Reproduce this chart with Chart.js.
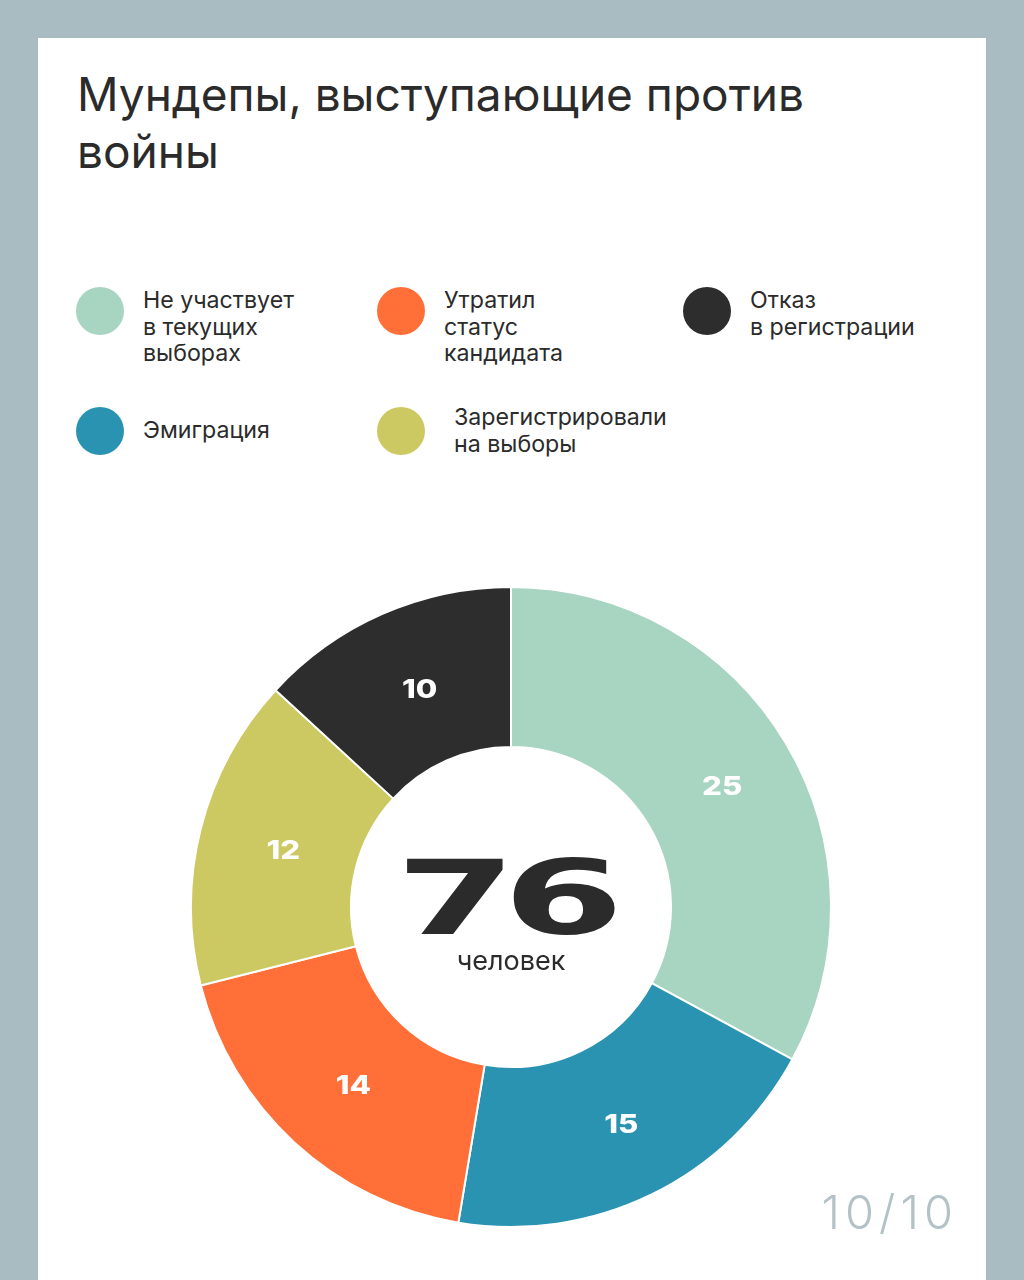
<!DOCTYPE html>
<html lang="ru">
<head>
<meta charset="utf-8">
<script src="https://cdn.jsdelivr.net/npm/chart.js@4.4.0/dist/chart.umd.min.js"></script>
<style>
  body { margin: 0; width: 1024px; height: 1280px; background: #a9bcc1; overflow: hidden; }
  .card { position: absolute; left: 38px; top: 38px; width: 948px; height: 1300px; background: #fff; }
  h1 { position: absolute; left: 77px; top: 66px; margin: 0; font: 400 46px/57px Inter, sans-serif; color: #2b2b2b; width: 860px; }
  #legend { position: absolute; left: 76px; top: 287px; display: grid; grid-template-columns: 301px 306px 260px; grid-template-rows: 117px auto; }
  .item { display: flex; align-items: flex-start; }
  .item .dot { width: 48px; height: 48px; border-radius: 50%; flex: none; margin-right: 19px; }
  .item .txt { font: 400 23.2px/26.5px Inter, sans-serif; color: #2b2b2b; margin-top: 0; }
  .item.row2 { align-items: center; }
  .item.shift .txt { margin-left: 10px; }
  #wrap { position: absolute; left: 190px; top: 586px; width: 642px; height: 642px; }
  .page { position: absolute; right: 66px; top: 1183px; font: 300 47px Inter, sans-serif; letter-spacing: 5px; color: #b3c2c7; }
</style>
</head>
<body>
<div class="card"></div>
<h1>Мундепы, выступающие против войны</h1>
<div id="legend"></div>
<div id="wrap"><canvas id="myChart"></canvas></div>
<div class="page">10/10</div>
<script>
// order in the ring, clockwise from the top
const labels = ["Не участвует в текущих выборах", "Эмиграция", "Утратил статус кандидата", "Зарегистрировали на выборы", "Отказ в регистрации"];
const values = [25, 15, 14, 12, 10];
const colors = ["#a8d4c2", "#2a93b1", "#ff6f37", "#cdc962", "#2d2d2d"];
const total = 76;
const totalLabel = "человек";

// legend is laid out in reading order, not ring order
const legendOrder = [0, 2, 4, 1, 3];
const legendLines = [
  ["Не участвует", "в текущих", "выборах"],
  ["Эмиграция"],
  ["Утратил", "статус", "кандидата"],
  ["Зарегистрировали", "на выборы"],
  ["Отказ", "в регистрации"]
];

const legend = document.getElementById("legend");
legendOrder.forEach((idx, pos) => {
  const item = document.createElement("div");
  item.className = "item" + (pos >= 3 ? " row2" : "") + (pos === 4 ? " shift" : "");
  item.innerHTML = `<span class="dot" style="background:${colors[idx]}"></span><span class="txt">${legendLines[idx].join("<br>")}</span>`;
  legend.appendChild(item);
});

const sliceLabels = {
  id: "sliceLabels",
  afterDatasetsDraw(chart) {
    const ctx = chart.ctx;
    const meta = chart.getDatasetMeta(0);
    ctx.save();
    ctx.fillStyle = "#fff";
    ctx.font = "800 26px Inter, sans-serif";
    ctx.textAlign = "center";
    ctx.textBaseline = "middle";
    meta.data.forEach((arc, i) => {
      const p = arc.getCenterPoint();
      ctx.save();
      ctx.translate(p.x + 5, p.y + 3);
      ctx.scale(1.2, 1);
      ctx.fillText(values[i], 0, 0);
      ctx.restore();
    });

    // big number in the hole
    const cx = (chart.chartArea.left + chart.chartArea.right) / 2;
    const cy = (chart.chartArea.top + chart.chartArea.bottom) / 2;
    ctx.fillStyle = "#2b2b2b";
    ctx.save();
    ctx.translate(cx - 8, cy);
    ctx.scale(1.67, 1);
    ctx.font = "bold 104px 'DejaVu Sans', sans-serif";
    ctx.letterSpacing = "-8px";
    ctx.fillText(String(total), 0, 0);
    ctx.restore();
    ctx.font = "400 27px Inter, sans-serif";
    ctx.fillText(totalLabel, cx, cy + 55);
    ctx.restore();
  }
};

const ctx = document.getElementById("myChart").getContext("2d");
const myChart = new Chart(ctx, {
  type: "doughnut",
  data: {
    labels,
    datasets: [
      {
        data: values,
        backgroundColor: colors,
        borderColor: "#fff",
        borderWidth: 2,
        hoverOffset: 0
      }
    ]
  },
  options: {
    responsive: true,
    maintainAspectRatio: false,
    animation: false,
    cutout: "50%",
    layout: { padding: 0 },
    plugins: {
      legend: { display: false },
      tooltip: { enabled: false }
    }
  },
  plugins: [sliceLabels]
});
</script>
</body>
</html>
